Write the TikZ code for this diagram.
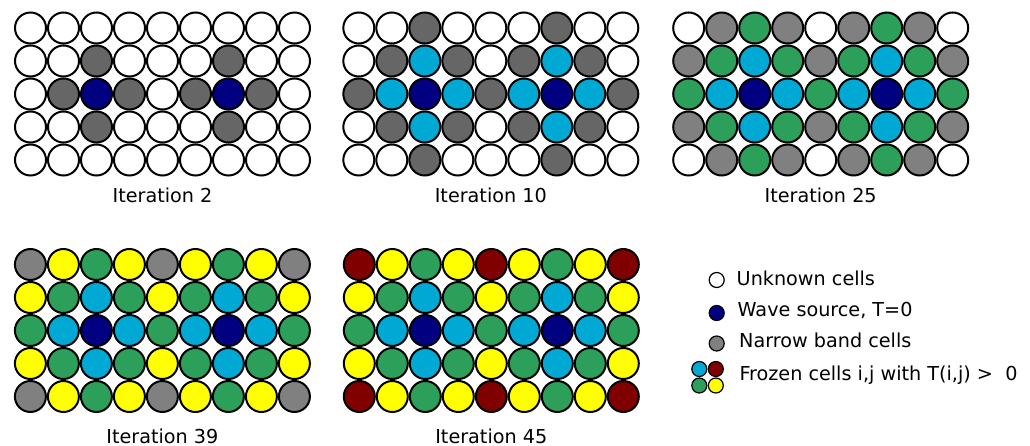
\documentclass[tikz,border=0pt]{standalone}
\usepackage{fontspec}
\setmainfont{DejaVu Sans}

% cell state colours
\definecolor{cw}{RGB}{255,255,255}   % unknown
\definecolor{cn}{RGB}{0,0,128}       % wave source
\definecolor{cd}{RGB}{102,102,102}   % narrow band (early)
\definecolor{cg}{RGB}{128,128,128}   % narrow band
\definecolor{cc}{RGB}{0,168,212}     % frozen, first front
\definecolor{ce}{RGB}{44,160,90}     % frozen, second front
\definecolor{cy}{RGB}{255,255,0}     % frozen, third front
\definecolor{cr}{RGB}{128,0,0}       % frozen, last front

% one 9x5 grid of cells: name, x of first centre, y of first centre, colours row by row
\newcommand\drawcellgrid[4]{%
  \foreach \c [count=\i from 0] in {#4} {
    \pgfmathtruncatemacro\col{mod(\i,9)}
    \pgfmathtruncatemacro\row{div(\i,9)}
    \node[cell,fill=\c] (#1-\row-\col) at (#2+33*\col,#3+33*\row) {};
  }%
}

\begin{document}
\begin{tikzpicture}[x=1pt,y=-1pt,
  cell/.style={circle,draw=black,line width=2pt,minimum size=31pt,inner sep=0pt},
  lab/.style={font=\fontsize{19.2}{23}\selectfont,anchor=base,inner sep=0pt},
  key/.style={circle,draw=black,line width=1.2pt,minimum size=15pt,inner sep=0pt},
  keytext/.style={font=\fontsize{19.2}{23}\selectfont,anchor=base west,inner sep=0pt}]
\useasboundingbox (0,0) rectangle (1030,446);

% Iteration 2
\drawcellgrid{ga}{30.5}{28}{%
  cw,cw,cw,cw,cw,cw,cw,cw,cw,
  cw,cw,cd,cw,cw,cw,cd,cw,cw,
  cw,cd,cn,cd,cw,cd,cn,cd,cw,
  cw,cw,cd,cw,cw,cw,cd,cw,cw,
  cw,cw,cw,cw,cw,cw,cw,cw,cw}
\node[lab] (laba) at (162.5,203) {Iteration 2};

% Iteration 10
\drawcellgrid{gb}{358.8}{28}{%
  cw,cw,cd,cw,cw,cw,cd,cw,cw,
  cw,cd,cc,cd,cw,cd,cc,cd,cw,
  cd,cc,cn,cc,cd,cc,cn,cc,cd,
  cw,cd,cc,cd,cw,cd,cc,cd,cw,
  cw,cw,cd,cw,cw,cw,cd,cw,cw}
\node[lab] (labb) at (490.8,203) {Iteration 10};

% Iteration 25
\drawcellgrid{gc}{688.7}{28}{%
  cw,cg,ce,cg,cw,cg,ce,cg,cw,
  cg,ce,cc,ce,cg,ce,cc,ce,cg,
  ce,cc,cn,cc,ce,cc,cn,cc,ce,
  cg,ce,cc,ce,cg,ce,cc,ce,cg,
  cw,cg,ce,cg,cw,cg,ce,cg,cw}
\node[lab] (labc) at (820.7,203) {Iteration 25};

% Iteration 39
\drawcellgrid{gd}{30.4}{264.5}{%
  cg,cy,ce,cy,cg,cy,ce,cy,cg,
  cy,ce,cc,ce,cy,ce,cc,ce,cy,
  ce,cc,cn,cc,ce,cc,cn,cc,ce,
  cy,ce,cc,ce,cy,ce,cc,ce,cy,
  cg,cy,ce,cy,cg,cy,ce,cy,cg}
\node[lab] (labd) at (162.4,443) {Iteration 39};

% Iteration 45
\drawcellgrid{ge}{359.3}{264.5}{%
  cr,cy,ce,cy,cr,cy,ce,cy,cr,
  cy,ce,cc,ce,cy,ce,cc,ce,cy,
  ce,cc,cn,cc,ce,cc,cn,cc,ce,
  cy,ce,cc,ce,cy,ce,cc,ce,cy,
  cr,cy,ce,cy,cr,cy,ce,cy,cr}
\node[lab] (labe) at (491.3,443) {Iteration 45};

% legend
\node[key,fill=cw] (kw) at (716.7,280) {};
\node[keytext] (tw) at (736.5,285) {Unknown cells};
\node[key,fill=cn] (kn) at (716.7,313) {};
\node[keytext] (tn) at (737.5,316.5) {Wave source, T=0};
\node[key,fill=cg] (kg) at (716.7,343.5) {};
\node[keytext] (tg) at (739,347) {Narrow band cells};
\node[key,fill=cc] (kc) at (699.3,369) {};
\node[key,fill=cr] (kr) at (715.8,369) {};
\node[key,fill=ce] (ke) at (699.3,385.5) {};
\node[key,fill=cy] (ky) at (715.8,385.5) {};
\node[keytext] (tf) at (739.3,380) {Frozen cells i,j with T(i,j) >~ 0};
\end{tikzpicture}
\end{document}
